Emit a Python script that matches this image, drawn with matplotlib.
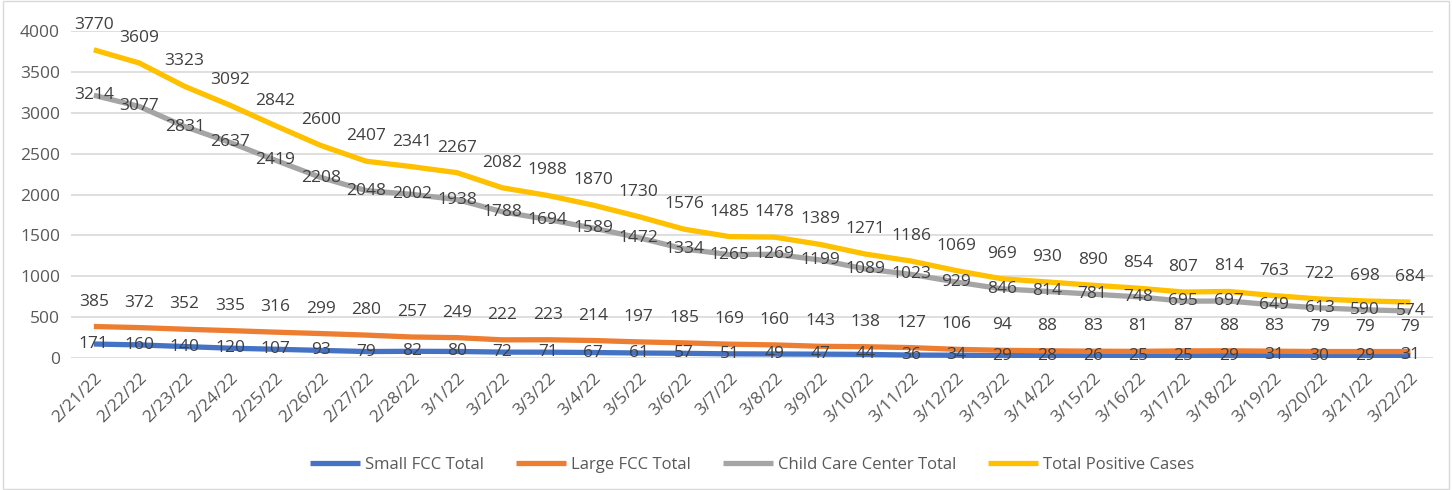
import matplotlib.pyplot as plt
import matplotlib.patches as mpatches
import numpy as np

plt.rcParams['font.family'] = ['Open Sans', 'DejaVu Sans']

dates = ['2/21/22', '2/22/22', '2/23/22', '2/24/22', '2/25/22', '2/26/22', '2/27/22',
         '2/28/22', '3/1/22', '3/2/22', '3/3/22', '3/4/22', '3/5/22', '3/6/22', '3/7/22',
         '3/8/22', '3/9/22', '3/10/22', '3/11/22', '3/12/22', '3/13/22', '3/14/22',
         '3/15/22', '3/16/22', '3/17/22', '3/18/22', '3/19/22', '3/20/22', '3/21/22',
         '3/22/22']

small_fcc = [171, 160, 140, 120, 107, 93, 79, 82, 80, 72, 71, 67, 61, 57, 51, 49, 47, 44,
             36, 34, 29, 28, 26, 25, 25, 29, 31, 30, 29, 31]
large_fcc = [385, 372, 352, 335, 316, 299, 280, 257, 249, 222, 223, 214, 197, 185, 169,
             160, 143, 138, 127, 106, 94, 88, 83, 81, 87, 88, 83, 79, 79, 79]
center = [3214, 3077, 2831, 2637, 2419, 2208, 2048, 2002, 1938, 1788, 1694, 1589, 1472,
          1334, 1265, 1269, 1199, 1089, 1023, 929, 846, 814, 781, 748, 695, 697, 649, 613,
          590, 574]
total = [3770, 3609, 3323, 3092, 2842, 2600, 2407, 2341, 2267, 2082, 1988, 1870, 1730,
         1576, 1485, 1478, 1389, 1271, 1186, 1069, 969, 930, 890, 854, 807, 814, 763, 722,
         698, 684]

series = [
    ('Small FCC Total', small_fcc, '#4472C4', 'center'),
    ('Large FCC Total', large_fcc, '#ED7D31', 'above'),
    ('Child Care Center Total', center, '#A5A5A5', 'center'),
    ('Total Positive Cases', total, '#FFC000', 'above'),
]

fig = plt.figure(figsize=(14.52, 4.9), dpi=100)
ax = fig.add_axes([0.049, 0.2694, 0.938, 0.6673])

x = np.arange(len(dates))
label_col = '#404040'
fs = 12.5
for name, vals, col, pos in series:
    ax.plot(x, vals, color=col, lw=3.8, label=name, solid_capstyle='butt')
for name, vals, col, pos in series:
    for xi, v in zip(x, vals):
        if pos == 'above':
            ax.annotate(str(v), (xi, v), xytext=(0, 18), textcoords='offset points',
                        ha='center', va='center', fontsize=fs, color=label_col)
        else:
            ax.annotate(str(v), (xi, v), ha='center', va='center',
                        fontsize=fs, color=label_col)

ax.set_xlim(-0.5, len(dates) - 0.5)
ax.set_ylim(0, 4000)
ax.set_yticks(np.arange(0, 4001, 500))
ax.set_xticks(x)
ax.set_xticklabels(dates, rotation=45, ha='right', va='top', rotation_mode='anchor')
ax.tick_params(axis='both', length=0, labelsize=fs, labelcolor='#595959')
ax.tick_params(axis='x', pad=9)
ax.tick_params(axis='y', pad=8)
ax.grid(axis='y', color='#D9D9D9', lw=1.2)
ax.set_axisbelow(True)
for s in ax.spines.values():
    s.set_visible(False)

ax.legend(loc='center', bbox_to_anchor=(0.5, -0.327), ncol=4, frameon=False,
          fontsize=fs - 0.5, handlelength=3.0, handletextpad=0.3, columnspacing=1.9,
          labelcolor='#595959')

fig.patches.append(mpatches.Rectangle((0.002, 0.003), 0.996, 0.994, transform=fig.transFigure,
                                      fill=False, edgecolor='#D9D9D9', lw=1))

fig.savefig('out.png', dpi=100)
